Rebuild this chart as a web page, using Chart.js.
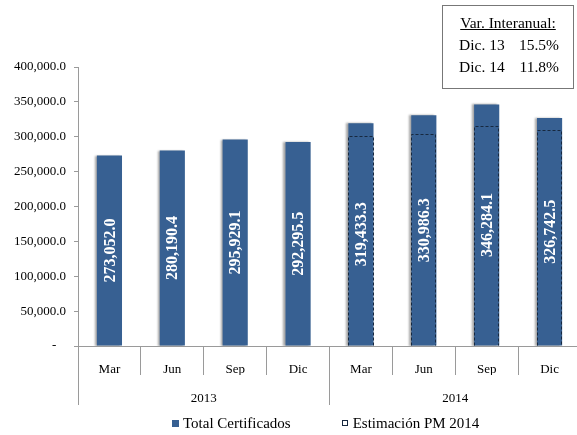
<!DOCTYPE html>
<html>
<head>
<meta charset="utf-8">
<script src="https://cdn.jsdelivr.net/npm/chart.js@4/dist/chart.umd.min.js"></script>
<style>
  body { margin: 0; background: #fff; font-family: "Liberation Serif", "Times New Roman", serif; }
  #wrap { position: relative; width: 577px; height: 435px; overflow: hidden; }
  #chart { position: absolute; left: 0; top: 0; }
  #varBox {
    position: absolute; left: 442px; top: 5px; width: 132px; height: 84px;
    border: 1px solid #777; font-size: 15.5px; line-height: 22px; color: #000;
    padding-top: 6px; box-sizing: border-box;
  }
  #varBox .title { text-align: center; }
  #varBox .title span { text-decoration: underline; }
  #varBox .row { display: flex; justify-content: space-between; padding: 0 14px 0 16px; }
  #legend {
    position: absolute; left: 172px; top: 414px; display: flex; gap: 51px;
    font-size: 15px; line-height: 18px; color: #000;
  }
  #legend .item { display: flex; align-items: center; }
  #legend .box { width: 7px; height: 7px; margin-right: 4px; box-sizing: border-box; }
</style>
</head>
<body>
<div id="wrap">
  <canvas id="chart" width="600" height="435"></canvas>
  <div id="varBox"></div>
  <div id="legend"></div>
</div>
<script>
// Categories
const months = ["Mar", "Jun", "Sep", "Dic", "Mar", "Jun", "Sep", "Dic"];
const years = ["2013", "2014"];

// Series values
const totalCertificados = [273052.0, 280190.4, 295929.1, 292295.5, 319433.3, 330986.3, 346284.1, 326742.5];
const estimacionPM2014 = [null, null, null, null, 301500, 304000, 315000, 310000];

// Year-on-year box
const varTitle = "Var. Interanual:";
const varLabels = ["Dic. 13", "Dic. 14"];
const varValues = ["15.5%", "11.8%"];

const barBlue = "#376092";
const dashNavy = "#17283f";
const axisGray = "#9a9a9a";
const serif = "'Liberation Serif', 'Times New Roman', serif";

function fmt(v) {
    return v.toLocaleString("en-US", { minimumFractionDigits: 1, maximumFractionDigits: 1 });
}

// Soft shadow on the left side of the solid bars
const barShadow = {
    id: "barShadow",
    beforeDatasetDraw(chart, args) {
        if (args.index !== 0) return;
        const ctx = chart.ctx;
        ctx.save();
        ctx.shadowColor = "rgba(0,0,0,0.35)";
        ctx.shadowOffsetX = -2;
        ctx.shadowOffsetY = 0;
        ctx.shadowBlur = 2;
    },
    afterDatasetDraw(chart, args) {
        if (args.index !== 0) return;
        chart.ctx.restore();
    }
};

// Dashed outline for the estimate bars and rotated value labels
const barDecor = {
    id: "barDecor",
    afterDatasetsDraw(chart) {
        const ctx = chart.ctx;
        ctx.save();
        ctx.strokeStyle = dashNavy;
        ctx.lineWidth = 1;
        ctx.setLineDash([3, 2]);
        chart.getDatasetMeta(1).data.forEach((bar, i) => {
            if (estimacionPM2014[i] == null) return;
            const l = Math.round(bar.x - bar.width / 2) + 0.5;
            const r = Math.round(bar.x + bar.width / 2) - 0.5;
            const t = Math.round(bar.y) + 0.5;
            ctx.beginPath();
            ctx.moveTo(l, bar.base);
            ctx.lineTo(l, t);
            ctx.lineTo(r, t);
            ctx.lineTo(r, bar.base);
            ctx.stroke();
        });
        ctx.setLineDash([]);
        ctx.fillStyle = "#fff";
        ctx.font = "bold 16px " + serif;
        ctx.textAlign = "center";
        ctx.textBaseline = "middle";
        chart.getDatasetMeta(0).data.forEach((bar, i) => {
            ctx.save();
            ctx.translate(bar.x + 1, (bar.y + bar.base) / 2);
            ctx.rotate(-Math.PI / 2);
            ctx.fillText(fmt(totalCertificados[i]), 0, 0);
            ctx.restore();
        });
        ctx.restore();
    }
};

const chart = new Chart(document.getElementById("chart"), {
    type: "bar",
    data: {
        labels: months,
        datasets: [
            {
                label: "Total Certificados",
                data: totalCertificados,
                backgroundColor: barBlue,
                borderWidth: 0,
                order: 1
            },
            {
                label: "Estimación PM 2014",
                data: estimacionPM2014,
                backgroundColor: "rgba(0,0,0,0)",
                borderWidth: 0,
                order: 0
            }
        ]
    },
    options: {
        responsive: false,
        animation: false,
        layout: { padding: { top: 67, right: 19, bottom: 30, left: 0 } },
        datasets: {
            bar: { grouped: false, barPercentage: 0.4, categoryPercentage: 1.0 }
        },
        plugins: {
            legend: { display: false },
            tooltip: { enabled: false }
        },
        scales: {
            x: {
                type: "category",
                offset: true,
                grid: { drawOnChartArea: false, offset: true, tickLength: 29, color: axisGray },
                border: { display: true, color: axisGray },
                ticks: {
                    autoSkip: false, maxRotation: 0, padding: -13,
                    color: "#000", font: { family: serif, size: 13 }
                },
                afterFit(scale) { scale.height = 29; }
            },
            x2: {
                type: "category",
                labels: years,
                position: "bottom",
                offset: true,
                grid: { drawOnChartArea: false, offset: true, tickLength: 30, color: axisGray },
                border: { display: false },
                ticks: {
                    autoSkip: false, maxRotation: 0, padding: -14,
                    color: "#000", font: { family: serif, size: 13 }
                },
                afterFit(scale) { scale.height = 30; }
            },
            y: {
                min: 0,
                max: 400000,
                grid: { drawOnChartArea: false, tickLength: 4, color: axisGray },
                border: { display: true, color: axisGray },
                ticks: {
                    stepSize: 50000, padding: 8,
                    color: "#000", font: { family: serif, size: 13 },
                    callback: (v) => v === 0 ? "-   " : fmt(v)
                },
                afterFit(scale) { scale.width = 78; }
            }
        }
    },
    plugins: [barShadow, barDecor]
});

// Year-on-year box
const varBox = document.getElementById("varBox");
varBox.innerHTML = '<div class="title"><span>' + varTitle + '</span></div>' +
    varLabels.map((l, i) => '<div class="row"><span>' + l + '</span><span>' + varValues[i] + '</span></div>').join("");

// HTML legend built from the datasets
const legend = document.getElementById("legend");
chart.data.datasets.forEach((ds, i) => {
    const item = document.createElement("div");
    item.className = "item";
    const box = document.createElement("span");
    box.className = "box";
    if (i === 0) {
        box.style.background = barBlue;
    } else {
        box.style.border = "1px dashed " + dashNavy;
        box.style.width = "6px";
        box.style.height = "6px";
        box.style.marginRight = "5px";
    }
    const text = document.createElement("span");
    text.textContent = ds.label;
    item.appendChild(box);
    item.appendChild(text);
    legend.appendChild(item);
});
</script>
</body>
</html>
